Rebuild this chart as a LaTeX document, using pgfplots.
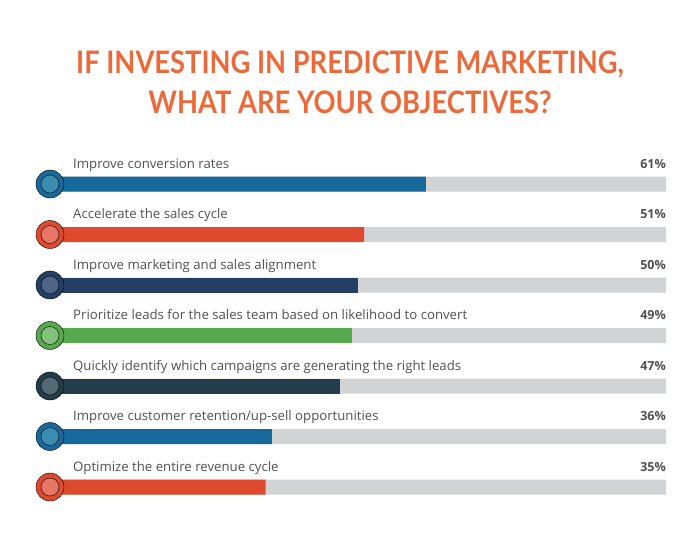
\documentclass[border=0pt]{standalone}
\usepackage{pgfplots}
\pgfplotsset{compat=1.18}
\usepackage{fontspec}
\setmainfont{Open Sans}
\newfontfamily\titlefont[FakeStretch=0.88]{Lato}
\definecolor{cblue}{HTML}{16699A}
\definecolor{cbluei}{HTML}{3A8DB1}
\definecolor{cred}{HTML}{DF4A2E}
\definecolor{credi}{HTML}{E77664}
\definecolor{cnavy}{HTML}{233F66}
\definecolor{cnavyi}{HTML}{4E6585}
\definecolor{cgreen}{HTML}{56A94E}
\definecolor{cgreeni}{HTML}{84C27C}
\definecolor{cslate}{HTML}{233D4A}
\definecolor{cslatei}{HTML}{536A74}
\definecolor{ctrack}{HTML}{D1D3D4}
\definecolor{ctitle}{HTML}{EC6A3A}
\definecolor{ctext}{HTML}{505050}
\tikzset{lab/.style={anchor=base west, text=ctext, font=\fontsize{13.2}{13.2}\selectfont, inner sep=0pt},
  pct/.style={anchor=base east, text=ctext, font=\bfseries\fontsize{12.5}{12.5}\selectfont, inner sep=0pt}}
\begin{document}
\begin{tikzpicture}
\useasboundingbox (0,0) rectangle (700pt,-550pt);
\node[anchor=base, text=ctitle, font=\titlefont\bfseries\fontsize{31}{31}\selectfont] at (350pt,-73pt) {IF INVESTING IN PREDICTIVE MARKETING,};
\node[anchor=base, text=ctitle, font=\titlefont\bfseries\fontsize{31}{31}\selectfont] at (350pt,-113pt) {WHAT ARE YOUR OBJECTIVES?};
\begin{axis}[
  at={(50pt,-512.25pt)}, anchor=south west,
  scale only axis, width=616pt, height=353.5pt,
  xmin=0, xmax=100, ymin=-6.5, ymax=0.5,
  hide axis, clip=false,
  xbar, bar width=15pt, bar shift=0pt,
]
% grey track
\addplot[draw=none, fill=ctrack] coordinates {(100,0) (100,-1) (100,-2) (100,-3) (100,-4) (100,-5) (100,-6)};
% values
\addplot[draw=none, fill=cblue] coordinates {(61,0) (36,-5)};
\addplot[draw=none, fill=cred] coordinates {(51,-1) (35,-6)};
\addplot[draw=none, fill=cnavy] coordinates {(50,-2)};
\addplot[draw=none, fill=cgreen] coordinates {(49,-3)};
\addplot[draw=none, fill=cslate] coordinates {(47,-4)};
% circles
\addplot[only marks, mark=*, mark size=14pt, mark options={draw=none, fill=cblue}, forget plot] coordinates {(0,0) (0,-5)};
\addplot[only marks, mark=*, mark size=9pt, mark options={draw=none, fill=cbluei}, forget plot] coordinates {(0,0) (0,-5)};
\addplot[only marks, mark=*, mark size=14pt, mark options={draw=none, fill=cred}, forget plot] coordinates {(0,-1) (0,-6)};
\addplot[only marks, mark=*, mark size=9pt, mark options={draw=none, fill=credi}, forget plot] coordinates {(0,-1) (0,-6)};
\addplot[only marks, mark=*, mark size=14pt, mark options={draw=none, fill=cnavy}, forget plot] coordinates {(0,-2)};
\addplot[only marks, mark=*, mark size=9pt, mark options={draw=none, fill=cnavyi}, forget plot] coordinates {(0,-2)};
\addplot[only marks, mark=*, mark size=14pt, mark options={draw=none, fill=cgreen}, forget plot] coordinates {(0,-3)};
\addplot[only marks, mark=*, mark size=9pt, mark options={draw=none, fill=cgreeni}, forget plot] coordinates {(0,-3)};
\addplot[only marks, mark=*, mark size=14pt, mark options={draw=none, fill=cslate}, forget plot] coordinates {(0,-4)};
\addplot[only marks, mark=*, mark size=9pt, mark options={draw=none, fill=cslatei}, forget plot] coordinates {(0,-4)};
% labels
\node[lab] at ([xshift=23pt, yshift=16pt]axis cs:0,0) {Improve conversion rates};
\node[lab] at ([xshift=23pt, yshift=16pt]axis cs:0,-1) {Accelerate the sales cycle};
\node[lab] at ([xshift=23pt, yshift=16pt]axis cs:0,-2) {Improve marketing and sales alignment};
\node[lab] at ([xshift=23pt, yshift=16pt]axis cs:0,-3) {Prioritize leads for the sales team based on likelihood to convert};
\node[lab] at ([xshift=23pt, yshift=16pt]axis cs:0,-4) {Quickly identify which campaigns are generating the right leads};
\node[lab] at ([xshift=23pt, yshift=16pt]axis cs:0,-5) {Improve customer retention/up-sell opportunities};
\node[lab] at ([xshift=23pt, yshift=16pt]axis cs:0,-6) {Optimize the entire revenue cycle};
\node[pct] at ([yshift=16pt]axis cs:100,0) {61\%};
\node[pct] at ([yshift=16pt]axis cs:100,-1) {51\%};
\node[pct] at ([yshift=16pt]axis cs:100,-2) {50\%};
\node[pct] at ([yshift=16pt]axis cs:100,-3) {49\%};
\node[pct] at ([yshift=16pt]axis cs:100,-4) {47\%};
\node[pct] at ([yshift=16pt]axis cs:100,-5) {36\%};
\node[pct] at ([yshift=16pt]axis cs:100,-6) {35\%};
\end{axis}
\end{tikzpicture}
\end{document}
